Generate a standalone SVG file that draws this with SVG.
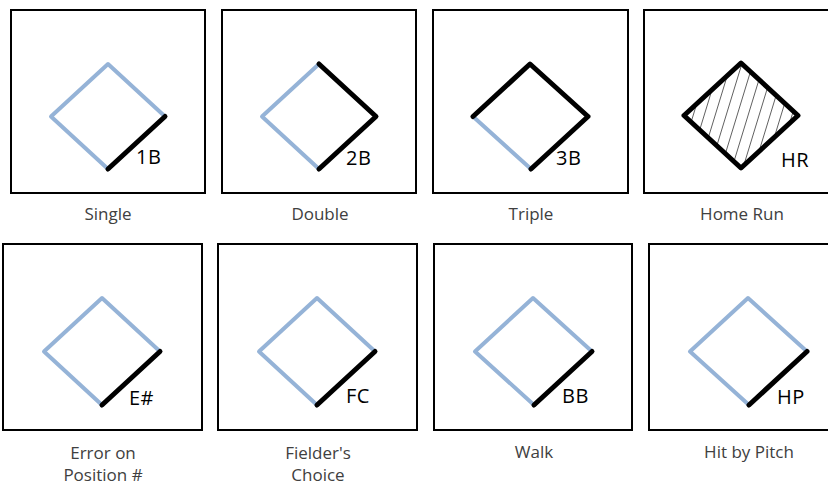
<svg xmlns="http://www.w3.org/2000/svg" width="828" height="487" viewBox="0 0 828 487">
<style>
.box{fill:#fff;stroke:#000;stroke-width:2}
.blue{fill:none;stroke:#95B3D7;stroke-width:4;stroke-linecap:round;stroke-linejoin:round}
.blk{fill:none;stroke:#000;stroke-width:5;stroke-linecap:round;stroke-linejoin:round}
.lbl{font-family:"Open Sans","Liberation Sans",sans-serif;font-size:20px;fill:#000;letter-spacing:0.5px}
.cap{font-family:"Open Sans","Liberation Sans",sans-serif;font-size:17px;fill:#404040;text-anchor:middle}
</style>
<defs>
<pattern id="hatch" width="10.5" height="20" patternUnits="userSpaceOnUse" patternTransform="translate(695 0) rotate(17)">
<line x1="0" y1="-5" x2="0" y2="25" stroke="#000" stroke-width="1.2"/>
</pattern>
</defs>
<rect width="828" height="487" fill="#fff"/>
<g id="single">
<rect class="box" x="11" y="10" width="194" height="183"/>
<path class="blue" d="M108,169 L51,116.5 L108,64 L165,116.5"/>
<path class="blk" d="M108,169 L165,116.5"/>
<text class="lbl" x="136" y="164">1B</text>
<text class="cap" x="108" y="220">Single</text>
</g>
<g id="double">
<rect class="box" x="222" y="10" width="194" height="183"/>
<path class="blue" d="M319,169 L262,116.5 L319,64"/>
<path class="blk" d="M319,169 L376,116.5 L319,64"/>
<text class="lbl" x="346" y="165">2B</text>
<text class="cap" x="320" y="220">Double</text>
</g>
<g id="triple">
<rect class="box" x="433" y="10" width="195" height="183"/>
<path class="blue" d="M531,169 L473,116.5"/>
<path class="blk" d="M531,169 L588,116.5 L530,64 L473,116.5"/>
<text class="lbl" x="556" y="165">3B</text>
<text class="cap" x="531" y="220">Triple</text>
</g>
<g id="homerun">
<rect class="box" x="644" y="10" width="200" height="183"/>
<path d="M741,168 L684,115.5 L741,63 L798,115.5 Z" fill="url(#hatch)"/>
<path class="blk" d="M741,168 L684,115.5 L741,63 L798,115.5 Z"/>
<text class="lbl" x="781" y="167">HR</text>
<text class="cap" x="742" y="220">Home Run</text>
</g>
<g id="error">
<rect class="box" x="3" y="244" width="199" height="186"/>
<path class="blue" d="M102,405 L44,351.5 L102,298 L160,351.5"/>
<path class="blk" d="M102,405 L160,351.5"/>
<text class="lbl" x="129" y="405">E#</text>
<text class="cap" x="103" y="459">Error on</text>
<text class="cap" x="103" y="481">Position #</text>
</g>
<g id="fielders">
<rect class="box" x="218" y="244" width="199" height="186"/>
<path class="blue" d="M317,405 L259,351.5 L317,298 L375,351.5"/>
<path class="blk" d="M317,405 L375,351.5"/>
<text class="lbl" x="346" y="403">FC</text>
<text class="cap" x="318" y="459">Fielder's</text>
<text class="cap" x="318" y="481">Choice</text>
</g>
<g id="walk">
<rect class="box" x="434" y="244" width="198" height="186"/>
<path class="blue" d="M534,405 L475,351.5 L533,298 L592,351.5"/>
<path class="blk" d="M534,405 L592,351.5"/>
<text class="lbl" x="562" y="403">BB</text>
<text class="cap" x="534" y="458">Walk</text>
</g>
<g id="hbp">
<rect class="box" x="649" y="244" width="200" height="186"/>
<path class="blue" d="M749,405 L690,351.5 L748,298 L807,351.5"/>
<path class="blk" d="M749,405 L807,351.5"/>
<text class="lbl" x="777" y="404">HP</text>
<text class="cap" x="749" y="458">Hit by Pitch</text>
</g>
<g id="connectors"/>
</svg>
